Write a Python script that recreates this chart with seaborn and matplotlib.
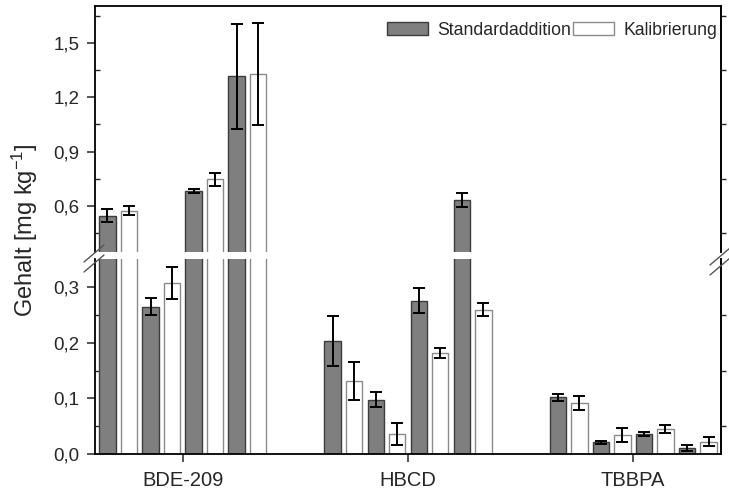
import matplotlib
matplotlib.use('Agg')
import matplotlib.pyplot as plt
from matplotlib.lines import Line2D
from matplotlib.patches import Patch
from matplotlib.ticker import FixedLocator, FuncFormatter, NullFormatter
import pandas as pd
import seaborn as sns

# Gehalte je Substanz und Probe (4 Proben)
substanzen = ['BDE-209', 'HBCD', 'TBBPA']
proben = ['1', '2', '3', '4']

std_bde = [0.545, 0.265, 0.683, 1.316]
std_bde_err = [0.037, 0.015, 0.011, 0.29]
kal_bde = [0.573, 0.308, 0.746, 1.329]
kal_bde_err = [0.026, 0.029, 0.035, 0.28]

std_hbcd = [0.203, 0.098, 0.276, 0.632]
std_hbcd_err = [0.045, 0.013, 0.023, 0.04]
kal_hbcd = [0.132, 0.036, 0.181, 0.260]
kal_hbcd_err = [0.034, 0.020, 0.009, 0.012]

std_tbbpa = [0.102, 0.021, 0.036, 0.011]
std_tbbpa_err = [0.006, 0.003, 0.004, 0.005]
kal_tbbpa = [0.092, 0.034, 0.045, 0.022]
kal_tbbpa_err = [0.012, 0.013, 0.007, 0.008]

werte = {
    'BDE-209': (std_bde, std_bde_err, kal_bde, kal_bde_err),
    'HBCD': (std_hbcd, std_hbcd_err, kal_hbcd, kal_hbcd_err),
    'TBBPA': (std_tbbpa, std_tbbpa_err, kal_tbbpa, kal_tbbpa_err),
}

rows = []
hue_order = []
for p in proben:
    hue_order += ['Standardaddition ' + p, 'Kalibrierung ' + p]
for s in substanzen:
    sv, se, kv, ke = werte[s]
    for i, p in enumerate(proben):
        rows.append({'Substanz': s, 'Serie': 'Standardaddition ' + p, 'Gehalt': sv[i], 'Fehler': se[i]})
        rows.append({'Substanz': s, 'Serie': 'Kalibrierung ' + p, 'Gehalt': kv[i], 'Fehler': ke[i]})
df = pd.DataFrame(rows)

GRAU = '#7f7f7f'
palette = {h: (GRAU if h.startswith('Standard') else 'white') for h in hue_order}

sns.set_style('ticks')
plt.rcParams['font.family'] = ['Liberation Sans', 'DejaVu Sans']
plt.rcParams['mathtext.fontset'] = 'custom'
plt.rcParams['mathtext.rm'] = 'Liberation Sans'
plt.rcParams['mathtext.it'] = 'Liberation Sans'

fig = plt.figure(figsize=(7.29, 4.92), dpi=100)
W, H = 729.0, 492.0
links, rechts = 95, 721
ax_top = fig.add_axes([links / W, (H - 252) / H, (rechts - links) / W, 246 / H])
ax_bot = fig.add_axes([links / W, (H - 454) / H, (rechts - links) / W, 195 / H])

OBEN = (0.344, 1.705)
UNTEN = (0.0, 0.351)
komma = FuncFormatter(lambda v, pos: f'{v:.1f}'.replace('.', ','))

for ax, lim in ((ax_top, OBEN), (ax_bot, UNTEN)):
    sns.barplot(data=df, x='Substanz', y='Gehalt', hue='Serie', hue_order=hue_order,
                order=substanzen, palette=palette, width=0.765, gap=0.24,
                errorbar=None, legend=False, saturation=1, ax=ax)
    for patch in ax.patches:
        if patch.get_facecolor()[0] > 0.9:
            patch.set_edgecolor('#8a8a8a')
        else:
            patch.set_edgecolor('#3c3c3c')
        patch.set_linewidth(1.0)
    # Fehlerbalken nur dort, wo das Balkenende liegt
    for patch in list(ax.patches):
        xc = patch.get_x() + patch.get_width() / 2
        h = patch.get_height()
        if not (lim[0] < h < lim[1]):
            continue
        s = substanzen[int(round(xc))]
        treffer = df[(df['Substanz'] == s) & ((df['Gehalt'] - h).abs() < 1e-9)]
        if len(treffer):
            ax.errorbar(xc, h, yerr=treffer['Fehler'].iloc[0], fmt='none', ecolor='black',
                        elinewidth=1.4, capsize=4.5, capthick=1.4, zorder=5)
    ax.set_xlim(-0.39, 2.39)
    ax.set_ylim(*lim)
    ax.set_xlabel('')
    ax.set_ylabel('')
    for sp in ax.spines.values():
        sp.set_linewidth(1.3)
        sp.set_color('black')
    ax.yaxis.set_major_formatter(komma)
    ax.tick_params(axis='y', which='major', direction='out', length=6, width=1.1,
                   labelsize=13.5, pad=5)
    ax.tick_params(axis='y', which='minor', direction='in', length=3.5, width=1.0)
    ax.tick_params(right=False)

# oberer Bereich
ax_top.yaxis.set_major_locator(FixedLocator([0.6, 0.9, 1.2, 1.5]))
ax_top.yaxis.set_minor_locator(FixedLocator([0.45, 0.75, 1.05, 1.35, 1.65]))
ax_top.spines['bottom'].set_visible(False)
ax_top.tick_params(axis='x', bottom=False, labelbottom=False)

# unterer Bereich
ax_bot.yaxis.set_major_locator(FixedLocator([0.0, 0.1, 0.2, 0.3]))
ax_bot.yaxis.set_minor_locator(FixedLocator([0.05, 0.15, 0.25]))
ax_bot.spines['top'].set_visible(False)
ax_bot.tick_params(axis='x', direction='out', length=6, width=1.1, labelsize=14.5, pad=6)

# rechte Achse: nur kleine Striche nach aussen
for ax, mt in ((ax_top, [0.45, 0.75, 1.05, 1.35, 1.65]), (ax_bot, [0.05, 0.15, 0.25])):
    sec = ax.secondary_yaxis('right')
    sec.yaxis.set_major_locator(FixedLocator(mt))
    sec.yaxis.set_major_formatter(NullFormatter())
    sec.tick_params(direction='out', length=3.5, width=1.0)
    sec.spines['right'].set_linewidth(1.3)

# Achsenbruch-Markierungen
def bruch(xp, yp):
    for dy in (0, 10):
        fig.add_artist(Line2D([(xp - 11) / W, (xp + 9) / W],
                              [(H - (yp + 9 + dy)) / H, (H - (yp - 8 + dy)) / H],
                              color='#555555', lw=1.0))

bruch(links, 253)
bruch(rechts, 256)

fig.text(25 / W, (H - 230) / H, 'Gehalt [mg kg$^{-1}$]', rotation=90,
         ha='center', va='center', fontsize=17)

handles = [Patch(facecolor=GRAU, edgecolor='#3c3c3c', label='Standardaddition'),
           Patch(facecolor='white', edgecolor='#8a8a8a', label='Kalibrierung')]
ax_top.legend(handles=handles, loc='upper right', ncol=2, frameon=False, fontsize=12.7,
              handlelength=2.35, handleheight=0.75, handletextpad=0.5, columnspacing=0.1,
              borderaxespad=0.0, bbox_to_anchor=(1.005, 0.965))

fig.savefig('out.png', dpi=100)
